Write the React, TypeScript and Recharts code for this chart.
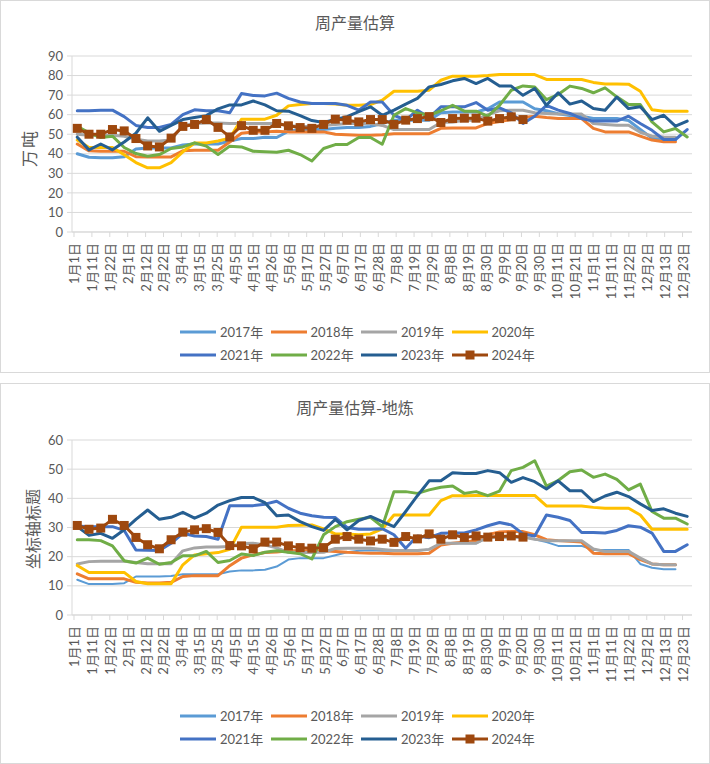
import React from 'react';
import { LineChart, Line, XAxis, YAxis, CartesianGrid, Legend } from 'recharts';

const X_LABELS = ['1月1日', '1月11日', '1月22日', '2月1日', '2月12日', '2月22日', '3月4日', '3月15日', '3月25日', '4月5日', '4月15日', '4月26日', '5月6日', '5月17日', '5月27日', '6月7日', '6月17日', '6月28日', '7月8日', '7月19日', '7月29日', '8月8日', '8月19日', '8月30日', '9月9日', '9月20日', '9月30日', '10月11日', '10月21日', '11月1日', '11月11日', '11月22日', '12月2日', '12月13日', '12月23日'];

const YEARS = ['2017年', '2018年', '2019年', '2020年', '2021年', '2022年', '2023年', '2024年'];
const COLORS = ['#5B9BD5', '#ED7D31', '#A5A5A5', '#FFC000', '#4472C4', '#70AD47', '#255E91', '#9E480E'];

const TOP_TICKS = [0, 10, 20, 30, 40, 50, 60, 70, 80, 90];
const BOTTOM_TICKS = [0, 10, 20, 30, 40, 50, 60];

// 周产量估算 (万吨), weekly
const TOP_2017 = [40, 38.2, 38, 38, 38.5, 42.5, 43, 43, 43, 44.5, 45, 45, 45, 46.5, 47.8, 47.8, 48.5, 48.3, 51.5, 52.4, 52.4, 52.4, 53, 53.4, 53.4, 54, 55.5, 57.2, 57.2, 57.2, 57.2, 61, 61.4, 61.4, 61.4, 63, 66.5, 66.5, 66.5, 63, 62, 60.5, 59.5, 59.2, 58, 58, 58, 57, 52.4, 48, 47.3, 47, null];
const TOP_2018 = [45, 41.5, 41.3, 41.3, 41.3, 38.5, 38.4, 38.4, 38.4, 41.5, 41.8, 41.8, 41.8, 46, 50.5, 51.2, 51.2, 51.5, 51.2, 51.2, 51.2, 51.2, 50, 49.7, 49.5, 49.5, 49.7, 50.2, 50.3, 50.3, 50.3, 53, 53.2, 53.2, 53.2, 55.5, 56.5, 57.5, 58.5, 59.2, 58.5, 58, 58, 58, 53, 51.2, 51.2, 51.2, 49, 47, 46.1, 46.1, null];
const TOP_2019 = [50, 49.5, 49.5, 49.5, 49, 47.5, 46.5, 46.5, 47, 54.5, 55.5, 55.8, 55.8, 55.5, 55.5, 55.5, 55.5, 55.5, 54.5, 54, 54, 54.5, 55, 55.5, 55.5, 55.5, 54.5, 52.4, 52.4, 52.4, 52.4, 56, 56.3, 57.2, 57.2, 60, 62, 62.3, 62.3, 61, 60.6, 60.3, 60.3, 60.3, 55.5, 55, 54.6, 54.6, 51, 49, 48.6, 48.5, null];
const TOP_2020 = [47, 43.2, 43.2, 43.2, 39.5, 35.5, 32.8, 32.8, 35.5, 41, 45.5, 45.5, 46.5, 48, 57.7, 57.7, 57.7, 59.7, 64.5, 65.2, 65.7, 65.7, 65.4, 64.8, 64.8, 65.2, 67.4, 72, 72, 72, 72.5, 77.6, 79.7, 79.7, 79.7, 80, 80.5, 80.5, 80.5, 80.5, 78, 78, 78, 78, 76.5, 75.7, 75.7, 75.6, 72, 62.5, 61.8, 61.8, 61.8];
const TOP_2021 = [62, 62, 62.3, 62.3, 59, 54.5, 53.4, 53.4, 55, 60, 62.5, 62, 62, 61, 70.8, 69.8, 69.6, 71, 68.3, 66.5, 65.7, 65.7, 65.7, 64.8, 62.3, 66.5, 66.5, 59.7, 57.2, 62.3, 58.5, 64, 64, 64, 66.2, 62.3, 63.5, 60.9, 55.5, 59.2, 64.8, 62.3, 60.6, 58, 56.7, 56.7, 56.7, 59.2, 55.5, 52, 47.3, 47.3, 52.4];
const TOP_2022 = [54, 50.7, 48.3, 49, 43.2, 40.1, 38.7, 39.6, 42.7, 43.5, 45.6, 43.9, 39.6, 43.9, 43.5, 41.3, 41, 40.8, 41.8, 39.6, 36.3, 42.7, 44.7, 44.7, 48.3, 48.3, 44.9, 59.7, 63.1, 60.9, 59.7, 62, 64.8, 61.8, 61.8, 59.2, 64.8, 72.5, 74.7, 74.2, 67.7, 70.3, 74.6, 73.4, 71.2, 73.7, 69.1, 65.2, 65.2, 56.3, 51.2, 52.9, 48.6];
const TOP_2023 = [48.5, 42, 45, 42, 46, 50.5, 58.4, 51.5, 54.5, 57.5, 58.5, 59.5, 63, 65, 65, 67, 65, 62, 61.8, 59.5, 57, 56, 57.5, 59, 61.5, 64, 59.7, 62.3, 65.4, 68.3, 74.2, 75.4, 77.3, 78.5, 75.9, 78.5, 74.6, 74.6, 69.9, 73.4, 64.8, 71.2, 65.4, 67, 63.1, 62.3, 69, 63.1, 64, 57.5, 59.7, 54.1, 56.7];
const TOP_2024 = [53, 50, 50, 52.4, 51.7, 47.8, 44, 43.5, 48, 54, 55, 57.5, 53.5, 48.6, 54.4, 52, 52, 55.5, 54.3, 53.4, 53, 55, 57.7, 57.2, 56.3, 57.5, 57.5, 55, 57.2, 58, 59, 56, 58, 58.2, 58.2, 56.7, 58, 58.9, 57.5];

// 周产量估算-地炼, weekly
const BOT_2017 = [12.1, 10.6, 10.6, 10.6, 10.9, 13.2, 13.2, 13.2, 13.4, 14, 14, 14, 14, 14.9, 15.3, 15.3, 15.5, 16.6, 19, 19.5, 19.5, 19.5, 20.5, 21.5, 22, 22.2, 22, 22, 22, 22, 22.5, 24.5, 24.6, 24.6, 24.6, 26.5, 26.7, 26.7, 26.7, 26, 25, 23.7, 23.7, 23.7, 22.3, 22.3, 22.3, 22.3, 17.5, 16.2, 15.7, 15.7, null];
const BOT_2018 = [14.1, 12.4, 12.4, 12.4, 12.4, 11.2, 11, 11, 11.2, 13.2, 13.5, 13.5, 13.5, 16.9, 19.5, 20.6, 21.4, 21.6, 22, 22, 22, 22, 21.8, 21.5, 21.3, 21.2, 21.2, 21, 21, 21, 21.2, 24, 24.6, 25, 25.5, 27.5, 28.5, 28.6, 28.6, 27.5, 25.8, 25.5, 25.3, 25, 21.2, 21, 21, 21, 19, 17.5, 17.2, 17.2, null];
const BOT_2019 = [17.5, 18.3, 18.4, 18.4, 18.4, 18, 17.6, 17.6, 17.6, 22, 23, 23.3, 23.3, 23.5, 24.5, 24.6, 24, 23, 21.5, 21.4, 21.4, 21.5, 22.8, 22.9, 22.9, 22.9, 22.5, 22.1, 22.1, 22.1, 22.5, 24.6, 24.6, 24.6, 24.6, 26.7, 26.7, 26.7, 26.7, 26, 25.5, 25.5, 25.5, 25.5, 22.6, 21.8, 21.8, 21.8, 19.5, 17.5, 17.2, 17.2, null];
const BOT_2020 = [17, 14.6, 14.6, 14.6, 14.6, 11.5, 10.7, 10.7, 10.7, 17.2, 20.6, 21, 21.4, 22.5, 30.1, 30.1, 30.1, 30.1, 30.7, 30.8, 30.9, 29.5, 27.8, 27.8, 27.5, 27.8, 29.5, 34.3, 34.3, 34.3, 34.3, 39.2, 40.9, 40.9, 41, 41, 41, 41, 41, 41, 37.4, 37.4, 37.4, 37.4, 36.9, 36.6, 36.6, 36.6, 34.3, 29.4, 29.4, 29.4, 29.4];
const BOT_2021 = [30.5, 30.3, 30.3, 30.3, 29, 22.3, 22.2, 22.1, 24.6, 28, 27.1, 26.9, 26, 37.5, 37.5, 37.5, 38, 39, 36.6, 34.9, 34, 33.5, 33.4, 30, 29.4, 29.4, 29.6, 27.5, 22.9, 27.1, 26.5, 28, 28.1, 28.1, 29.2, 30.6, 31.7, 30.9, 27.8, 27.1, 34.3, 33.5, 32.4, 28.3, 28.3, 28.1, 29, 30.6, 30.1, 28.1, 21.8, 21.8, 24.1];
const BOT_2022 = [25.8, 25.8, 25.5, 23.7, 18.6, 17.8, 19.5, 17.4, 18, 20.3, 20.3, 21.8, 18, 18.7, 20.9, 20.4, 21.5, 22, 21.5, 21, 19.2, 27.5, 30.3, 32, 32.8, 33.5, 30.3, 42.3, 42.3, 41.7, 42.9, 43.8, 44.2, 41.7, 42.3, 40.9, 42.5, 49.5, 50.6, 52.9, 44.2, 46.1, 49.1, 49.7, 47.2, 48.3, 46.5, 42.9, 44.9, 35.5, 33.2, 33.2, 31.2];
const BOT_2023 = [30.3, 27.3, 28, 26.3, 29.2, 32.8, 36, 32.8, 33.5, 35.2, 33.2, 34.9, 37.7, 39.2, 40.3, 40.3, 38.5, 34, 34.3, 32, 30.3, 29, 32.8, 29.2, 32.4, 33.8, 32, 30.3, 35.5, 40.9, 46, 46, 48.8, 48.5, 48.5, 49.5, 48.8, 45.5, 47.1, 45.7, 43.2, 46, 42.6, 42.6, 38.9, 40.8, 42.1, 40.6, 38.1, 35.8, 36.4, 34.9, 33.8];
const BOT_2024 = [30.7, 29.4, 29.8, 32.8, 30.7, 26.6, 24.1, 22.7, 25.8, 28.4, 29.2, 29.6, 28.3, 23.8, 23.7, 22.7, 25, 25, 23.7, 23.1, 22.9, 23.1, 26, 26.9, 26, 25.4, 26, 24.9, 26.9, 26.1, 27.8, 26, 27.5, 26.6, 27.1, 26.7, 26.9, 27.1, 26.7];

const TOP_SERIES = [TOP_2017, TOP_2018, TOP_2019, TOP_2020, TOP_2021, TOP_2022, TOP_2023, TOP_2024];
const BOT_SERIES = [BOT_2017, BOT_2018, BOT_2019, BOT_2020, BOT_2021, BOT_2022, BOT_2023, BOT_2024];

const WEEKS = 53;
const LABEL_START = -0.28;
const LABEL_STEP = 1.526;
const LABEL_POS = X_LABELS.map((_, k) => LABEL_START + k * LABEL_STEP);

const NUM_FONT = "Lato, 'Noto Sans CJK SC', sans-serif";
const CJK_FONT = "'Noto Sans CJK SC', sans-serif";
const TEXT = '#595959';
const GRID = '#D9D9D9';

function buildRows(series: (number | null)[][]) {
  return Array.from({ length: WEEKS }, (_, i) => {
    const r: any = { w: i };
    series.forEach((s, k) => {
      const v = s[i];
      r['s' + k] = v === undefined ? null : v;
    });
    return r;
  });
}

const XTick = (props: any) => {
  const { x, y, payload } = props;
  const k = Math.round((payload.value - LABEL_START) / LABEL_STEP);
  return (
    <text
      x={x}
      y={y}
      transform={`rotate(-90, ${x}, ${y})`}
      textAnchor="end"
      dominantBaseline="central"
      fontSize={13}
      fill={TEXT}
      fontFamily={NUM_FONT}
    >
      {X_LABELS[k]}
    </text>
  );
};

const SquareDot = (props: any) => {
  const { cx, cy, index } = props;
  if (cx == null || cy == null || isNaN(cx) || isNaN(cy)) return <g key={'d' + index} />;
  return <rect key={'d' + index} x={cx - 4.5} y={cy - 4.5} width={9} height={9} fill={COLORS[7]} />;
};

const LegendBox = () => (
  <div style={{ position: 'relative', width: 710, height: 46, fontFamily: NUM_FONT }}>
    {YEARS.map((name, j) => {
      const col = j % 4;
      const row = Math.floor(j / 4);
      const left = 180 + col * 90.5;
      const top = row * 22.5;
      return (
        <div key={name} style={{ position: 'absolute', left, top, height: 24, display: 'flex', alignItems: 'center' }}>
          <svg width={36} height={12} style={{ display: 'block' }}>
            <line x1={0} y1={6} x2={36} y2={6} stroke={COLORS[j]} strokeWidth={3} strokeLinecap="round" />
            {j === 7 ? <rect x={13.5} y={1.5} width={9} height={9} fill={COLORS[7]} /> : null}
          </svg>
          <span style={{ marginLeft: 4, fontSize: 13, color: TEXT, whiteSpace: 'nowrap', lineHeight: '24px' }}>{name}</span>
        </div>
      );
    })}
  </div>
);

type PanelProps = {
  top: number;
  height: number;
  marginTop: number;
  marginBottom: number;
  yMax: number;
  yTicks: number[];
  series: (number | null)[][];
  widths: number[];
  legendTop: number;
};

function Panel(p: PanelProps) {
  const rows = buildRows(p.series);
  return (
    <div style={{ position: 'absolute', left: 0, top: p.top }}>
      <LineChart
        width={710}
        height={p.height}
        data={rows}
        margin={{ top: p.marginTop, right: 18, bottom: p.marginBottom, left: 32 }}
      >
        <CartesianGrid vertical={false} stroke={GRID} strokeWidth={1} />
        <XAxis
          dataKey="w"
          type="number"
          domain={[-0.45, 52.41]}
          ticks={LABEL_POS}
          interval={0}
          allowDataOverflow
          height={60}
          tickSize={5}
          tickMargin={6}
          tick={<XTick />}
          axisLine={{ stroke: GRID }}
          tickLine={{ stroke: GRID }}
        />
        <YAxis
          type="number"
          domain={[0, p.yMax]}
          ticks={p.yTicks}
          interval={0}
          width={40}
          tickSize={5}
          tickMargin={4}
          axisLine={{ stroke: GRID }}
          tickLine={{ stroke: GRID }}
          tick={{ fontSize: 13, fill: TEXT, fontFamily: NUM_FONT }}
        />
        {p.series.map((_, k) => (
          <Line
            key={k}
            type="linear"
            dataKey={'s' + k}
            name={YEARS[k]}
            stroke={COLORS[k]}
            strokeWidth={p.widths[k]}
            strokeLinejoin="round"
            strokeLinecap="round"
            dot={k === 7 ? SquareDot : false}
            activeDot={false}
            connectNulls={false}
            isAnimationActive={false}
          />
        ))}
        <Legend
          layout="horizontal"
          verticalAlign="middle"
          align="center"
          wrapperStyle={{ top: p.legendTop, left: 0, width: 710, height: 46 }}
          content={() => <LegendBox />}
        />
      </LineChart>
    </div>
  );
}

export default function App() {
  const boxStyle = (top: number, height: number): React.CSSProperties => ({
    position: 'absolute',
    left: 0,
    top,
    width: 708,
    height,
    border: '1px solid ' + GRID,
    background: '#fff',
  });
  return (
    <div style={{ position: 'absolute', left: 0, top: 0, width: 710, height: 764, background: '#fff', fontFamily: CJK_FONT }}>
      <div style={boxStyle(0, 371)} />
      <div style={boxStyle(383, 379)} />
      <div style={{ position: 'absolute', left: 0, top: 11, width: 710, textAlign: 'center', fontSize: 16, color: TEXT, lineHeight: '22px' }}>周产量估算</div>
      <div style={{ position: 'absolute', left: 0, top: 396, width: 710, textAlign: 'center', fontSize: 16, color: TEXT, lineHeight: '22px' }}>周产量估算-地炼</div>
      <div style={{ position: 'absolute', left: 29, top: 148, transform: 'translate(-50%, -50%) rotate(-90deg)', fontSize: 17, letterSpacing: 2, color: TEXT, whiteSpace: 'nowrap', lineHeight: '20px' }}>万吨</div>
      <div style={{ position: 'absolute', left: 32, top: 529, transform: 'translate(-50%, -50%) rotate(-90deg)', fontSize: 16, color: TEXT, whiteSpace: 'nowrap', lineHeight: '20px' }}>坐标轴标题</div>
      <Panel
        top={0}
        height={373}
        marginTop={56}
        marginBottom={81}
        yMax={90}
        yTicks={TOP_TICKS}
        series={TOP_SERIES}
        widths={[3, 3, 3, 3, 3, 3, 3, 3]}
        legendTop={320}
      />
      <Panel
        top={383}
        height={380}
        marginTop={57}
        marginBottom={88}
        yMax={60}
        yTicks={BOTTOM_TICKS}
        series={BOT_SERIES}
        widths={[2, 3, 3, 3, 3, 3, 3, 3]}
        legendTop={321}
      />
    </div>
  );
}
